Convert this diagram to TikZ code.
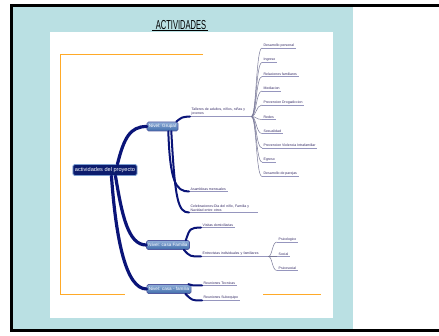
\documentclass[tikz,border=0pt]{standalone}
\usepackage{fontspec}
\setmainfont{Liberation Sans}
\usepackage{tikz}
\usetikzlibrary{calc}

\definecolor{paleblue}{RGB}{186,224,227}
\definecolor{navy}{RGB}{10,20,120}
\definecolor{rootfill}{RGB}{12,28,110}
\definecolor{levelfill}{RGB}{70,120,190}
\definecolor{leaftext}{RGB}{50,40,100}
\definecolor{leafline}{RGB}{150,150,190}
\definecolor{orangeline}{RGB}{255,170,40}

\begin{document}
\begin{tikzpicture}[x=1pt, y=-1pt, inner sep=0pt,
	root/.style={rectangle, rounded corners=1.5pt, fill=rootfill, draw=levelfill!70, line width=0.8pt, text=white, font=\fontsize{5.6}{6}\selectfont, minimum height=11pt, inner xsep=2pt},
	level/.style={rectangle, rounded corners=1.5pt, top color=levelfill!60, bottom color=levelfill!90!black, draw=navy!70, line width=0.6pt, text=white, font=\fontsize{4.6}{5}\selectfont, minimum height=9pt, inner xsep=2pt},
	leaf/.style={anchor=south west, text=leaftext, font=\fontsize{3.5}{4.2}\selectfont, align=left, inner xsep=1.5pt, inner ysep=0.8pt,
		append after command={(\tikzlastnode.south west) edge[leafline] (\tikzlastnode.south east)}},
	leafline/.style={draw=leafline, line width=0.6pt},
	branch/.style={draw=navy, line width=3.2pt, line cap=round},
	twig/.style={draw=navy, line width=2pt, line cap=round},
	fan/.style={draw=leafline!80!black, line width=0.5pt},
	orange/.style={draw=orangeline, line width=1pt}]
	\useasboundingbox (0,0) rectangle (439,336);

	% background panels
	\fill[paleblue] (13,6) rectangle (353,329);
	\fill[white] (50,32) rectangle (333,318);
	\draw[line width=2.5pt] (440,5.5) -- (11.5,5.5) -- (11.5,330.5) -- (440,330.5);

	% title
	\node[font=\fontsize{13}{13}\selectfont, xscale=0.58, anchor=south] (title) at (181,30) {ACTIVIDADES};
	\draw[line width=0.6pt] (152,30.5) -- (208,30.5);

	% orange frame
	\draw[orange] (203,54.5) -- (60.5,54.5) -- (60.5,295) -- (125,295);
	\draw[orange] (263,295) -- (321,295);

	% main nodes
	\node[root] (root) at (105,170) {actividades del proyecto};
	\node[level] (grupal) at (162.5,126.5) {Nivel: Grupal};
	\node[level] (familia) at (168,245) {Nivel: casa Familia};
	\node[level] (casa) at (169,289) {Nivel: casa - familia};

	% second level
	\node[leaf, text width=58pt] (talleres) at (190,116.5) {Talleres de adultos, niños, niñas y\\jovenes};
	\node[leaf] (asambleas) at (189,191.5) {Asambleas mensuales};
	\node[leaf, text width=66pt] (celebraciones) at (189,212.5) {Celebraciones:Dia del niño, Familia y\\Navidad entre otros};
	\node[leaf] (visitas) at (201,227.5) {Visitas domiciliarias};
	\node[leaf, text width=64pt] (entrevistas) at (201,256.5) {Entrevistas individuales y familiares};
	\node[leaf] (tecnicas) at (202,285.5) {Reuniones Tecnicas};
	\node[leaf] (subequipo) at (202,300.5) {Reuniones Subequipo};

	% talleres leaves
	\node[leaf] (personal) at (262,48) {Desarrollo personal};
	\node[leaf] (ingreso) at (262,62.5) {Ingreso};
	\node[leaf] (relaciones) at (262,76.5) {Relaciones familiares};
	\node[leaf] (mediacion) at (262,91) {Mediacion};
	\node[leaf] (drogadiccion) at (262,105) {Prevencion Drogadiccion};
	\node[leaf] (redes) at (262,119.5) {Redes};
	\node[leaf] (sexualidad) at (262,133.5) {Sexualidad};
	\node[leaf] (violencia) at (262,148) {Prevencion Violencia Intrafamiliar};
	\node[leaf] (egreso) at (262,162) {Egreso};
	\node[leaf] (parejas) at (262,176.5) {Desarrollo de parejas};

	% entrevistas leaves
	\node[leaf] (psicologico) at (277,242) {Psicologico};
	\node[leaf] (social) at (277,256.5) {Social};
	\node[leaf] (psicosocial) at (277,270.5) {Psicosocial};

	% thick branches
	\draw[branch] ($(root.north east)+(-20,0)$) .. controls (124,138) and (130,126.5) .. (grupal.west);
	\draw[branch] ($(root.south east)+(-22,0)$) .. controls (122,215) and (128,245) .. (familia.west);
	\draw[branch] ($(root.south east)+(-26,0)$) .. controls (116,240) and (126,289) .. (casa.west);

	\draw[twig] ($(grupal.north east)+(-2,0)$) .. controls (182,117) .. (talleres.south west);
	\draw[twig] ($(grupal.south east)+(-10,0)$) .. controls (170,182) and (176,191.5) .. (asambleas.south west);
	\draw[twig] ($(grupal.south east)+(-7,0)$) .. controls (175,200) and (178,212.5) .. (celebraciones.south west);
	\draw[twig] ($(familia.north east)+(-4,0)$) .. controls (190,228) .. (visitas.south west);
	\draw[twig] ($(familia.south east)+(-6,0)$) .. controls (190,256.5) .. (entrevistas.south west);
	\draw[twig] ($(casa.north east)+(-3,0)$) .. controls (192,285.5) .. (tecnicas.south west);
	\draw[twig] ($(casa.south east)+(-6,0)$) .. controls (192,300.5) .. (subequipo.south west);

	% fans to leaves
	\foreach \n in {personal, ingreso, relaciones, mediacion, drogadiccion, redes, sexualidad, violencia, egreso, parejas}
		\draw[fan] (talleres.south east) .. controls +(5,0) and +(-6,0) .. (\n.south west);
	\foreach \n in {psicologico, social, psicosocial}
		\draw[fan] (entrevistas.south east) .. controls +(4,0) and +(-5,0) .. (\n.south west);
\end{tikzpicture}
\end{document}
